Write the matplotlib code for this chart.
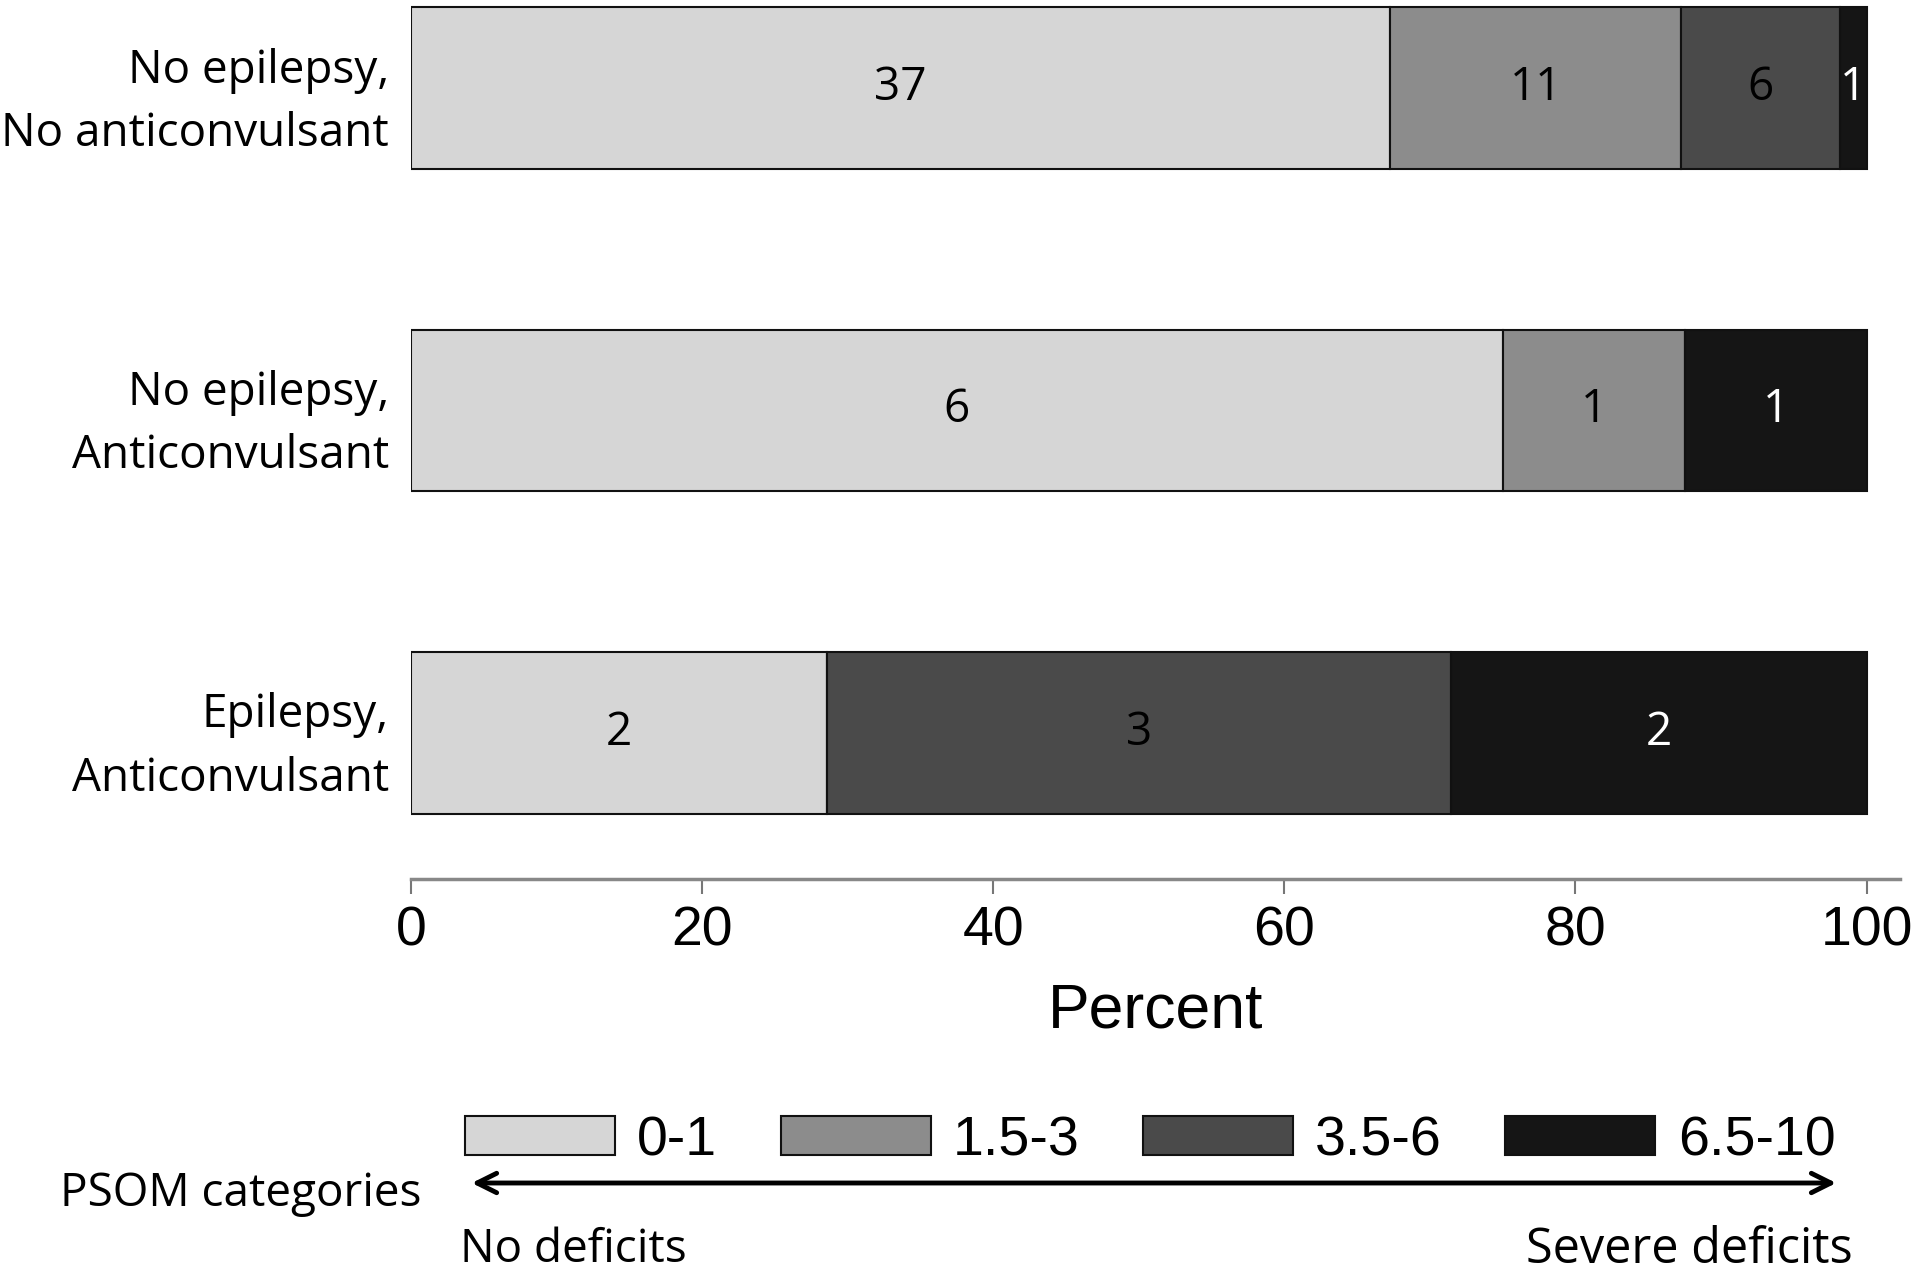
import numpy as np
import matplotlib
matplotlib.use("Agg")
import matplotlib.pyplot as plt
from matplotlib.patches import FancyArrowPatch, Patch

# groupes et comptes par catégorie PSOM
groups = ["No epilepsy,\nNo anticonvulsant", "No epilepsy,\nAnticonvulsant", "Epilepsy,\nAnticonvulsant"]
categories = ["0-1", "1.5-3", "3.5-6", "6.5-10"]
counts_0_1 = [37, 6, 2]
counts_15_3 = [11, 1, 0]
counts_35_6 = [6, 0, 3]
counts_65_10 = [1, 1, 2]
colors = ["#d6d6d6", "#8c8c8c", "#4a4a4a", "#151515"]
text_colors = ["black", "black", "black", "white"]

label_font = "Open Sans"
num_font = "Liberation Sans"

counts = np.array([counts_0_1, counts_15_3, counts_35_6, counts_65_10], dtype=float)
totals = counts.sum(axis=0)
percents = counts / totals * 100

fig = plt.figure(figsize=(19.2, 12.72), dpi=100)
ax = fig.add_axes([411 / 1920, 1 - 879 / 1272, (1900 - 411) / 1920, 879 / 1272])

y = np.arange(len(groups))
left = np.zeros(len(groups))
for k in range(len(categories)):
    bars = ax.barh(y, percents[k], left=left, height=0.5, color=colors[k],
                   edgecolor="#111111", linewidth=1.5)
    for i, b in enumerate(bars):
        if counts[k, i] > 0:
            ax.text(left[i] + percents[k, i] / 2, y[i], f"{int(counts[k, i])}",
                    ha="center", va="center", fontsize=33, family=label_font,
                    color=text_colors[k])
    left = left + percents[k]

ax.set_xlim(0, 102.3)
ax.set_ylim(2.453, -0.273)
ax.set_xticks([0, 20, 40, 60, 80, 100])
ax.set_xticklabels(["0", "20", "40", "60", "80", "100"], fontsize=40, family=num_font)
ax.set_yticks(y)
ax.set_yticklabels(groups, fontsize=33, family=label_font, linespacing=1.5)
ax.tick_params(axis="y", length=0, pad=16)
ax.tick_params(axis="x", length=11, width=1.5, color="#777777", pad=8)
for s in ["top", "right", "left"]:
    ax.spines[s].set_visible(False)
ax.spines["bottom"].set_color("#888888")
ax.spines["bottom"].set_linewidth(2.5)
ax.set_xlabel("Percent", fontsize=45, family=num_font, labelpad=17)

# légende
handles = [Patch(facecolor=colors[k], edgecolor="#111111", linewidth=1.5) for k in range(4)]
fig.legend(handles, categories, loc="center left", bbox_to_anchor=(465 / 1920, 1 - 1141 / 1272),
           ncol=4, frameon=False, borderpad=0, borderaxespad=0, handlelength=2.7,
           handleheight=0.72, handletextpad=0.4, columnspacing=1.14,
           prop={"family": num_font, "size": 40})

arrow = FancyArrowPatch((469 / 1920, 1 - 1183 / 1272), (1839 / 1920, 1 - 1183 / 1272),
                        transform=fig.transFigure, arrowstyle="<->", mutation_scale=35,
                        linewidth=3.5, color="black")
fig.add_artist(arrow)

fig.text(422 / 1920, 1 - 1194 / 1272, "PSOM categories", ha="right", va="center",
         fontsize=33, family=label_font)
fig.text(460 / 1920, 1 - 1250 / 1272, "No deficits", ha="left", va="center",
         fontsize=33, family=label_font)
fig.text(1853 / 1920, 1 - 1250 / 1272, "Severe deficits", ha="right", va="center",
         fontsize=35, family=label_font)

fig.savefig("out.png", dpi=100)
